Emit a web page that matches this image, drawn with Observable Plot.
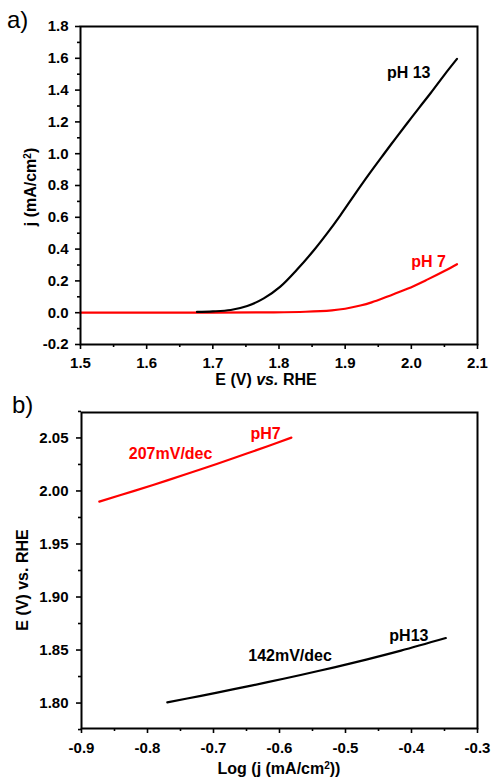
<!DOCTYPE html>
<html><head><meta charset="utf-8">
<script src="https://cdn.jsdelivr.net/npm/d3@7"></script>
<script src="https://cdn.jsdelivr.net/npm/@observablehq/plot@0.6"></script>
<style>
body{margin:0;background:#fff;}
#wrap{position:relative;width:491px;height:779px;}
#wrap svg{position:absolute;left:0;}
</style></head><body><div id="wrap"></div>
<script>
// ---- Panel a: LSV curves ----
const E_pH13 = [1.676,1.70,1.727,1.752,1.777,1.802,1.827,1.853,1.873,1.893,1.913,1.935,1.958,1.976,1.994,2.012,2.029,2.05,2.069];
const j_pH13 = [0.005,0.008,0.017,0.042,0.09,0.164,0.27,0.394,0.50,0.614,0.735,0.865,0.995,1.095,1.193,1.29,1.38,1.496,1.596];
const E_pH7 = [1.5,1.6,1.7,1.78,1.84,1.88,1.90,1.923,1.94,1.963,1.994,2.024,2.05,2.069];
const j_pH7 = [0,0,0,0.002,0.006,0.015,0.025,0.045,0.065,0.10,0.150,0.208,0.262,0.305];
const aXTicks = [1.5,1.6,1.7,1.8,1.9,2.0,2.1];
const aXMinor = [1.55,1.65,1.75,1.85,1.95,2.05];
const aYTicks = [-0.2,0,0.2,0.4,0.6,0.8,1.0,1.2,1.4,1.6,1.8];
const aYMinor = [-0.1,0.1,0.3,0.5,0.7,0.9,1.1,1.3,1.5,1.7];
const aLabels = [{t:"pH 13", x:1.996, y:1.51, c:"black"},{t:"pH 7", x:2.026, y:0.32, c:"red"}];

// ---- Panel b: Tafel plots ----
const logj_pH7 = [-0.873,-0.82,-0.77,-0.719,-0.669,-0.618,-0.582];
const Eb_pH7 = [1.990,2.0001,2.0100,2.0205,2.0311,2.0422,2.0503];
const logj_pH13 = [-0.770,-0.719,-0.669,-0.618,-0.568,-0.517,-0.467,-0.416,-0.348];
const Eb_pH13 = [1.8006,1.8068,1.8131,1.8197,1.8265,1.8337,1.8412,1.8494,1.8613];
const bXTicks = [-0.9,-0.8,-0.7,-0.6,-0.5,-0.4,-0.3];
const bXMinor = [-0.85,-0.75,-0.65,-0.55,-0.45,-0.35];
const bYTicks = [1.80,1.85,1.90,1.95,2.00,2.05];
const bYMinor = [1.775,1.825,1.875,1.925,1.975,2.025,2.075];
const bLabels = [{t:"207mV/dec", x:-0.765, y:2.0352, c:"red"},{t:"pH7", x:-0.621, y:2.054, c:"red"},
                 {t:"142mV/dec", x:-0.584, y:1.8448, c:"black"},{t:"pH13", x:-0.404, y:1.8637, c:"black"}];

const FONT = '"Liberation Sans", Arial, sans-serif';
const zip = (xs, ys) => xs.map((x,i)=>({x, y: ys[i]}));
const blank = () => "";

const aPlot = Plot.plot({
  width: 491, height: 390,
  marginLeft: 80, marginRight: 14, marginTop: 26, marginBottom: 46,
  style: {fontFamily: FONT, fontWeight: "bold", fontSize: "15px", background: "white", color: "black"},
  x: {domain: [1.5, 2.1], label: null},
  y: {domain: [-0.2, 1.8], label: null},
  marks: [
    Plot.axisX(aXTicks, {tickSize: 5, tickPadding: 8, strokeWidth: 1.6, fontSize: 15, fontWeight: "bold", tickFormat: d => d.toFixed(1), label: null}),
    Plot.axisX(aXMinor, {tickSize: 3, strokeWidth: 1.6, tickFormat: blank, label: null}),
    Plot.axisY(aYTicks, {tickSize: 5, tickPadding: 7, strokeWidth: 1.6, fontSize: 15, fontWeight: "bold", tickFormat: d => d.toFixed(1), label: null}),
    Plot.axisY(aYMinor, {tickSize: 3, strokeWidth: 1.6, tickFormat: blank, label: null}),
    Plot.line(zip(E_pH7, j_pH7), {x: "x", y: "y", stroke: "#ff0000", strokeWidth: 2.2, curve: "catmull-rom"}),
    Plot.line(zip(E_pH13, j_pH13), {x: "x", y: "y", stroke: "black", strokeWidth: 2.2, curve: "catmull-rom"}),
    Plot.text(aLabels, {x: "x", y: "y", text: "t", fill: "c", fontSize: 16, fontWeight: "bold"}),
    Plot.frame({stroke: "black", strokeWidth: 2})
  ]
});

const bPlot = Plot.plot({
  width: 491, height: 389,
  marginLeft: 81, marginRight: 14, marginTop: 22, marginBottom: 51,
  style: {fontFamily: FONT, fontWeight: "bold", fontSize: "15px", background: "white", color: "black"},
  x: {domain: [-0.9, -0.3], label: null},
  y: {domain: [1.776, 2.074], label: null},
  marks: [
    Plot.axisX(bXTicks, {tickSize: 5, tickPadding: 9, strokeWidth: 1.6, fontSize: 15, fontWeight: "bold", tickFormat: d => d.toFixed(1), label: null}),
    Plot.axisX(bXMinor, {tickSize: 3, strokeWidth: 1.6, tickFormat: blank, label: null}),
    Plot.axisY(bYTicks, {tickSize: 5, tickPadding: 8, strokeWidth: 1.6, fontSize: 15, fontWeight: "bold", tickFormat: d => d.toFixed(2), label: null}),
    Plot.axisY(bYMinor, {tickSize: 3, strokeWidth: 1.6, tickFormat: blank, label: null}),
    Plot.line(zip(logj_pH7, Eb_pH7), {x: "x", y: "y", stroke: "#ff0000", strokeWidth: 2.2, curve: "catmull-rom"}),
    Plot.line(zip(logj_pH13, Eb_pH13), {x: "x", y: "y", stroke: "black", strokeWidth: 2.2, curve: "catmull-rom"}),
    Plot.text(bLabels, {x: "x", y: "y", text: "t", fill: "c", fontSize: 16, fontWeight: "bold"}),
    Plot.frame({stroke: "black", strokeWidth: 2})
  ]
});

const wrap = document.getElementById("wrap");
aPlot.style.top = "0px";
bPlot.style.top = "390px";
wrap.appendChild(aPlot);
wrap.appendChild(bPlot);

// panel tags and axis titles
function addTitles(svg, o) {
  const s = d3.select(svg);
  s.append("text").attr("x", o.tag[0]).attr("y", o.tag[1]).attr("text-anchor", "start")
    .attr("font-family", FONT).attr("font-size", 24).attr("font-weight", "normal")
    .attr("fill", "black").text(o.tagText);
  const xt = s.append("text").attr("x", o.xt[0]).attr("y", o.xt[1]).attr("text-anchor", "middle")
    .attr("font-family", FONT).attr("font-size", 16).attr("font-weight", "bold").attr("fill", "black");
  o.xParts.forEach(p => {
    const t = xt.append("tspan").text(p.s);
    if (p.i) t.attr("font-style", "italic");
    if (p.sup) t.attr("font-size", 10).attr("baseline-shift", "super");
  });
  const yt = s.append("text").attr("transform", `translate(${o.yt[0]},${o.yt[1]}) rotate(-90)`)
    .attr("text-anchor", "middle")
    .attr("font-family", FONT).attr("font-size", 16).attr("font-weight", "bold").attr("fill", "black");
  o.yParts.forEach(p => {
    const t = yt.append("tspan").text(p.s);
    if (p.i) t.attr("font-style", "italic");
    if (p.sup) t.attr("font-size", 10).attr("baseline-shift", "super");
  });
}
addTitles(aPlot, {tag: [7, 28], tagText: "a)", xt: [266, 385], yt: [36, 187],
  xParts: [{s: "E (V) "}, {s: "vs.", i: true}, {s: " RHE"}],
  yParts: [{s: "j (mA/cm"}, {s: "2", sup: true}, {s: ")"}]});
addTitles(bPlot, {tag: [12, 23], tagText: "b)", xt: [279, 384], yt: [28, 190],
  xParts: [{s: "Log (j (mA/cm"}, {s: "2", sup: true}, {s: "))"}],
  yParts: [{s: "E (V) vs. RHE"}]});
</script>
</body></html>
